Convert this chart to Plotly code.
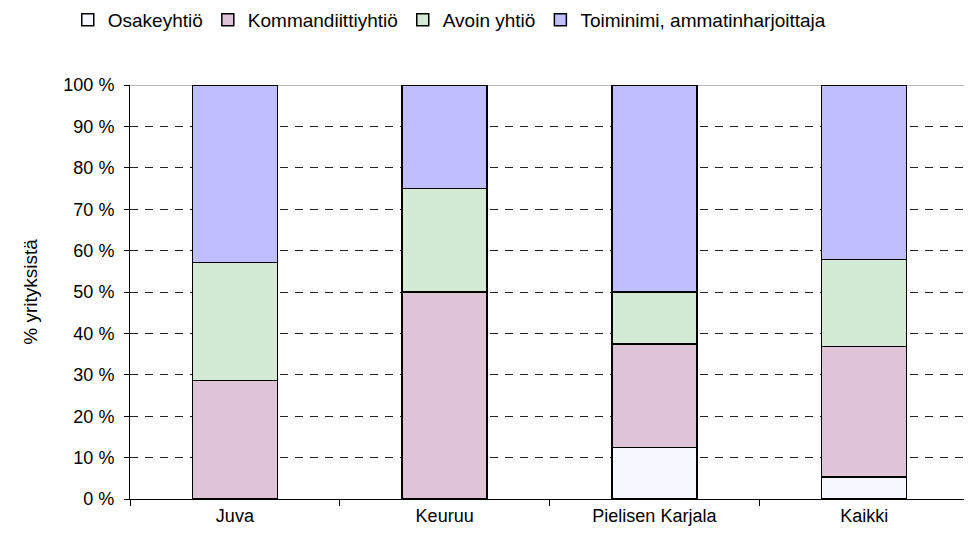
import plotly.graph_objects as go

categories = ["Juva", "Keuruu", "Pielisen Karjala", "Kaikki"]
series_names = ["Osakeyhtiö", "Kommandiittiyhtiö", "Avoin yhtiö", "Toiminimi, ammatinharjoittaja"]
osakeyhtio = [0.0, 0.0, 12.5, 5.26]
kommandiitti = [28.57, 50.0, 25.0, 31.58]
avoin = [28.57, 25.0, 12.5, 21.05]
toiminimi = [42.86, 25.0, 50.0, 42.11]
colors = ["#F7F7FF", "#DFC4D7", "#D5EAD5", "#BFBFFF"]
y_tickvals = [0, 10, 20, 30, 40, 50, 60, 70, 80, 90, 100]
y_ticktext = ["0 %", "10 %", "20 %", "30 %", "40 %", "50 %", "60 %", "70 %", "80 %", "90 %", "100 %"]

FONT = "Liberation Sans, Arial, sans-serif"

fig = go.Figure()
for name, vals, col in zip(series_names, [osakeyhtio, kommandiitti, avoin, toiminimi], colors):
    fig.add_trace(go.Bar(
        x=categories, y=vals, name=name,
        marker=dict(color=col, line=dict(color="black", width=1.5)),
        hoverinfo="skip",
    ))

fig.update_layout(
    width=964, height=540,
    barmode="stack",
    bargap=0.595,
    plot_bgcolor="white", paper_bgcolor="white",
    margin=dict(l=122, r=3, t=77, b=49),
    font=dict(family=FONT, size=18, color="black"),
    legend=dict(orientation="h", xref="container", yref="container",
                x=0.062, y=0.978, xanchor="left", yanchor="middle",
                font=dict(size=19), itemwidth=30, tracegroupgap=0,
                traceorder="normal"),
    showlegend=True,
)
fig.update_xaxes(
    showline=True, linecolor="black", linewidth=1,
    ticks="outside", tickson="boundaries", ticklen=6, tickcolor="black",
    showgrid=False, tickfont=dict(size=18),
)
fig.update_yaxes(
    range=[0, 100], tickvals=y_tickvals, ticktext=y_ticktext,
    showline=True, linecolor="black", linewidth=1,
    ticks="outside", ticklen=5, tickcolor="black",
    ticklabelstandoff=6,
    showgrid=True, gridcolor="#222222", griddash="8px,7px", gridwidth=1,
    zeroline=False,
    title=dict(text="% yrityksistä", font=dict(size=19), standoff=20),
    tickfont=dict(size=18),
)
fig.add_shape(type="line", xref="paper", yref="y", x0=0, x1=1, y0=100, y1=100,
              line=dict(color="#A0A0A0", width=1.5), layer="below")
fig.write_html("out.html")
